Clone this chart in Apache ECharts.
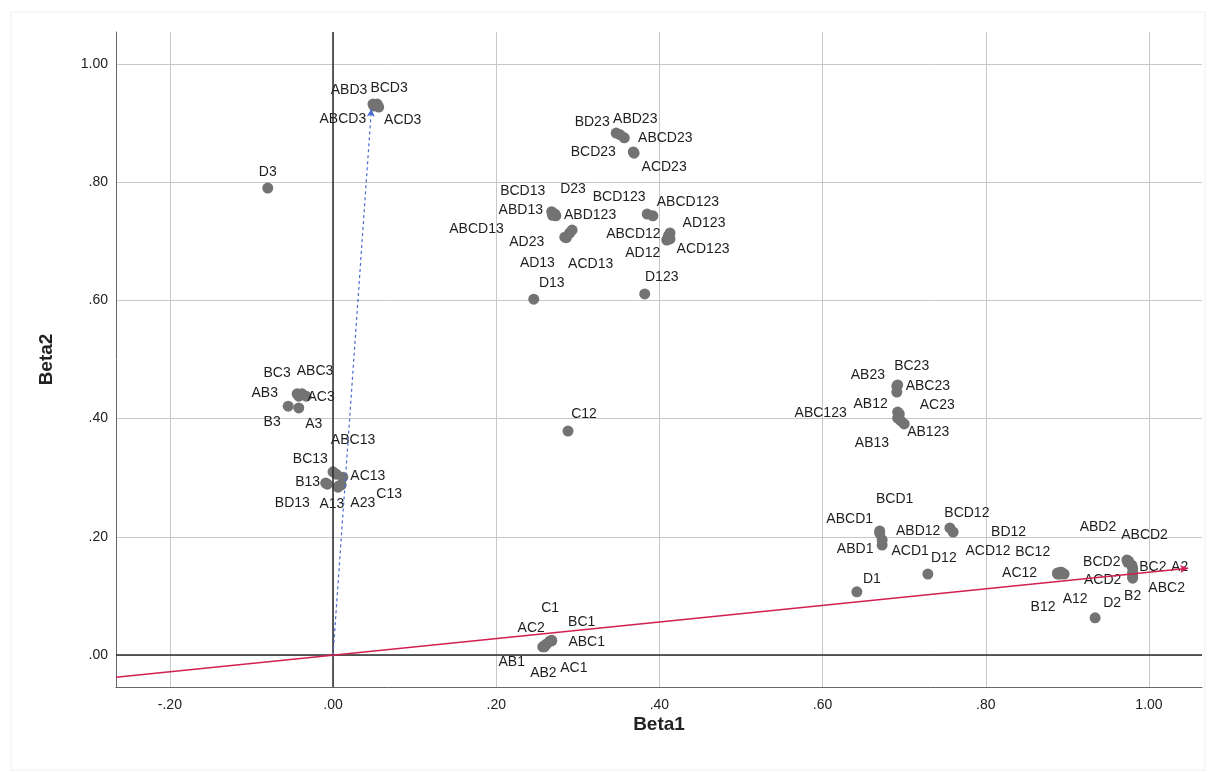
<!DOCTYPE html>
<html><head><meta charset="utf-8">
<script src="https://cdn.jsdelivr.net/npm/echarts@6/dist/echarts.min.js"></script>
<style>html,body{margin:0;padding:0;background:#fff}#c{width:1208px;height:772px}</style>
</head><body><div id="c"></div>
<script>
const names = ['ABD3','BCD3','ABCD3','ACD3','D3','BD23','ABD23','ABCD23','BCD23','ACD23',
 'BCD13','ABD13','D23','ABCD13','ABD123','AD23','AD13','ACD13','BCD123','ABCD123',
 'AD123','ABCD12','ACD123','AD12','D123','D13','BC3','ABC3','AB3','AC3',
 'B3','A3','ABC13','BC13','AC13','B13','BD13','A13','A23','C13',
 'C12','AB23','BC23','ABC23','AB12','AC23','ABC123','AB123','AB13','BCD1',
 'ABCD1','ABD1','ACD1','BCD12','ABD12','D12','D1','BD12','ACD12','BC12',
 'AC12','B12','A12','ABD2','ABCD2','BCD2','BC2','A2','ACD2','ABC2',
 'B2','D2','C1','AC2','BC1','ABC1','AB1','AB2','AC1'];
const beta1 = [0.049,0.054,0.050,0.056,-0.080,0.347,0.352,0.357,0.368,0.369,
 0.268,0.273,0.272,0.269,0.293,0.284,0.286,0.290,0.385,0.392,
 0.413,0.411,0.413,0.409,0.382,0.246,-0.044,-0.038,-0.042,-0.033,
 -0.055,-0.042,0.000,0.004,0.012,-0.009,-0.007,0.006,0.007,0.010,
 0.288,0.691,0.692,0.691,0.692,0.694,0.692,0.700,0.696,0.670,
 0.670,0.673,0.673,0.756,0.760,0.729,0.642,0.888,0.891,0.893,
 0.888,0.891,0.896,0.973,0.975,0.974,0.979,0.980,0.980,0.980,
 0.980,0.934,0.266,0.260,0.268,0.268,0.257,0.259,0.262];
const beta2 = [0.932,0.932,0.929,0.927,0.790,0.883,0.880,0.875,0.851,0.849,
 0.750,0.743,0.746,0.744,0.719,0.707,0.706,0.714,0.746,0.743,
 0.714,0.709,0.704,0.702,0.611,0.602,0.442,0.442,0.438,0.438,
 0.421,0.418,0.310,0.306,0.301,0.291,0.289,0.284,0.286,0.288,
 0.379,0.455,0.457,0.445,0.411,0.408,0.401,0.391,0.396,0.210,
 0.206,0.186,0.195,0.215,0.208,0.137,0.107,0.139,0.140,0.140,
 0.137,0.137,0.137,0.161,0.159,0.157,0.152,0.147,0.140,0.130,
 0.134,0.063,0.024,0.017,0.025,0.024,0.014,0.014,0.019];
// label placement (pixel offsets of each label from its point)
const labelOffsets = [[-24,-14],[12,-16],[-31,13],[24,13],[0,-16],[-24,-11],[15,-16],[41,0],[-40,0],[30,14],
 [-29,-21],[-35,-6],[18,-25],[-76,14],[18,-15],[-38,5],[-29,25],[21,31],[-28,-17],[35,-14],
 [34,-10],[-35,-2],[33,10],[-24,13],[17,-17],[18,-16],[-20,-21],[13,-23],[-34,-3],[15,1],
 [-16,16],[15,16],[20,-32],[-26,-15],[25,-1],[-18,-1],[-35,19],[-6,17],[24,17],[48,9],
 [16,-17],[-29,-11],[14,-19],[31,-6],[-27,-8],[38,-9],[-77,-5],[24,8],[-29,22],[15,-32],
 [-30,-14],[-27,4],[28,11],[17,-15],[-35,-1],[16,-16],[15,-13],[-49,-41],[-72,-21],[-29,-20],
 [-38,-1],[-17,33],[11,25],[-29,-33],[16,-26],[-26,0],[21,2],[47,-1],[-30,8],[34,10],
 [0,20],[17,-15],[0,-33],[-14,-17],[30,-18],[35,1],[-31,15],[-1,26],[27,24]];
const redVectorEnd = [1.048, 0.147];
const blueVectorEnd = [0.047, 0.924];
const xRange = [-0.266, 1.065];
const yRange = [-0.054, 1.054];

const fmt = v => v.toFixed(2).replace(/^(-?)0\./, '$1.');
const font = "'Liberation Sans', Arial, sans-serif";
const data = names.map((n, i) => ({
  name: n, value: [beta1[i], beta2[i]],
  label: { offset: labelOffsets[i] }
}));
const slope = redVectorEnd[1] / redVectorEnd[0];

const chart = echarts.init(document.getElementById('c'), null, { renderer: 'canvas' });
chart.setOption({
  animation: false,
  backgroundColor: '#fff',
  graphic: [{ type: 'rect', shape: { x: 11, y: 12, width: 1194, height: 758 },
    style: { fill: 'none', stroke: '#efefef', lineWidth: 1 }, silent: true, z: -10 }],
  grid: { left: 116, right: 6, top: 32, bottom: 85 },
  xAxis: {
    type: 'value', min: xRange[0], max: xRange[1], splitNumber: 7,
    name: 'Beta1', nameLocation: 'middle', nameGap: 28, nameMoveOverlap: false,
    nameTextStyle: { fontFamily: font, fontSize: 19, fontWeight: 'bold', color: '#222' },
    axisLine: { onZero: false, lineStyle: { color: '#666', width: 1 } },
    axisTick: { show: false },
    axisLabel: { formatter: fmt, showMinLabel: false, showMaxLabel: false, margin: 11,
      fontFamily: font, fontSize: 14, color: '#222' },
    splitLine: { show: true, showMinLine: false, showMaxLine: false, lineStyle: { color: '#c8c8c8', width: 1 } }
  },
  yAxis: {
    type: 'value', min: yRange[0], max: yRange[1], splitNumber: 5,
    name: 'Beta2', nameLocation: 'middle', nameGap: 60, nameRotate: 90, nameMoveOverlap: false,
    nameTextStyle: { fontFamily: font, fontSize: 19, fontWeight: 'bold', color: '#222' },
    axisLine: { onZero: false, lineStyle: { color: '#666', width: 1 } },
    axisTick: { show: false },
    axisLabel: { formatter: fmt, showMinLabel: false, showMaxLabel: false, margin: 8,
      fontFamily: font, fontSize: 14, color: '#222' },
    splitLine: { show: true, showMinLine: false, showMaxLine: false, lineStyle: { color: '#c8c8c8', width: 1 } }
  },
  series: [
    {
      type: 'scatter', name: 'lines', data: [], z: 3,
      markLine: {
        silent: true, animation: false, label: { show: false },
        data: [
          [{ xAxis: 0, yAxis: yRange[0], symbol: 'none' }, { xAxis: 0, yAxis: yRange[1], symbol: 'none',
            lineStyle: { color: '#2a2a2a', width: 1.5, type: 'solid' } }],
          [{ xAxis: xRange[0], yAxis: 0, symbol: 'none' }, { xAxis: xRange[1], yAxis: 0, symbol: 'none',
            lineStyle: { color: '#2a2a2a', width: 1.5, type: 'solid' } }],
          [{ coord: [0, 0], symbol: 'none' }, { coord: blueVectorEnd, symbol: 'arrow', symbolSize: [6, 8],
            lineStyle: { color: '#4a6bd0', width: 1.2, type: [3, 3] } }],
          [{ coord: [xRange[0], xRange[0] * slope], symbol: 'none' }, { coord: redVectorEnd, symbol: 'arrow', symbolSize: [6, 8],
            lineStyle: { color: '#d21f4f', width: 1.5, type: 'solid' } }]
        ]
      }
    },
    {
      type: 'scatter', data: data, symbol: 'circle', symbolSize: 11, z: 2,
      itemStyle: { color: '#737373', opacity: 1 },
      label: { show: true, position: 'inside', formatter: '{b}', align: 'center', verticalAlign: 'middle',
        fontFamily: font, fontSize: 14, color: '#1e1e1e' },
      emphasis: { disabled: true }
    }
  ]
});
</script></body></html>
